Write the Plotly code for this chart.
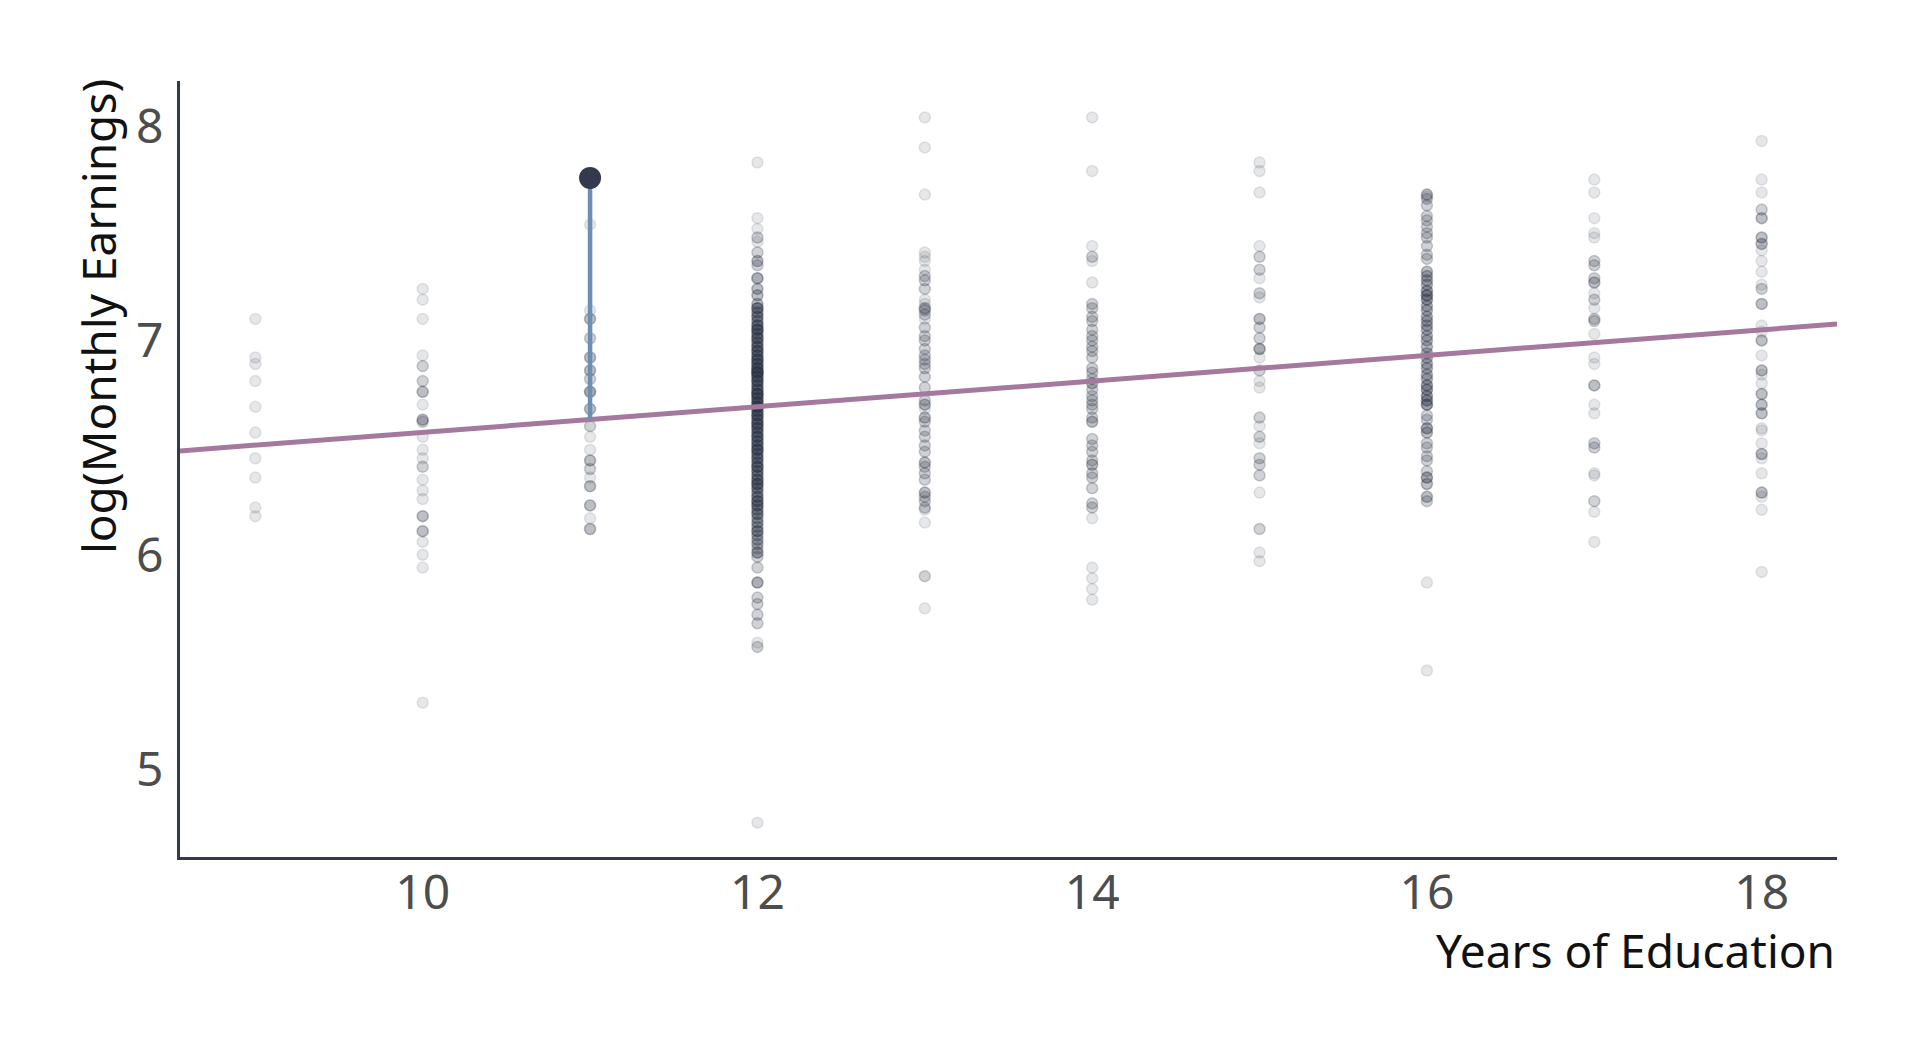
import plotly.graph_objects as go

# ---- data: log monthly earnings by years of education ----
# each column: distinct values read off the chart and how many dots sit on each
educ_years = [9, 10, 11, 12, 13, 14, 15, 16, 17, 18]

earn_9_vals = [7.10, 6.92, 6.89, 6.81, 6.69, 6.57, 6.45, 6.36, 6.22, 6.18]
earn_9_cnts = [1, 1, 1, 1, 1, 1, 1, 1, 1, 1]

earn_10_vals = [7.24, 7.19, 7.10, 6.93, 6.88, 6.81, 6.76, 6.70, 6.63, 6.62, 6.55, 6.49,
                6.45, 6.41, 6.35, 6.30, 6.26, 6.18, 6.11, 6.06, 6.00, 5.94, 5.31]
earn_10_cnts = [1, 1, 1, 1, 2, 2, 3, 1, 3, 2, 1, 1,
                1, 2, 1, 1, 1, 3, 3, 1, 1, 1, 1]

earn_11_vals = [7.54, 7.14, 7.10, 7.01, 6.92, 6.86, 6.82, 6.76, 6.68, 6.60, 6.55, 6.49,
                6.44, 6.40, 6.36, 6.32, 6.23, 6.17, 6.12]
earn_11_cnts = [1, 1, 3, 2, 3, 3, 2, 4, 3, 2, 1, 1,
                3, 2, 1, 3, 3, 1, 3]

earn_12_vals = [7.83, 7.57, 7.52, 7.48, 7.46, 7.41, 7.37, 7.35, 7.29, 7.24, 7.21,
                7.17, 7.15, 7.13, 7.11, 7.09, 7.07, 7.05, 7.03, 7.01, 6.99, 6.97, 6.95,
                6.93, 6.91, 6.89, 6.87, 6.85, 6.83, 6.81, 6.79, 6.77, 6.75, 6.73, 6.71,
                6.69, 6.67, 6.65, 6.63, 6.61, 6.59, 6.57, 6.55, 6.53, 6.51, 6.49, 6.47,
                6.45, 6.43, 6.41, 6.39, 6.37, 6.35, 6.33, 6.31, 6.29, 6.27, 6.25, 6.23,
                6.21, 6.19, 6.17, 6.15, 6.13, 6.11, 6.09, 6.07, 6.05, 6.03, 6.01, 5.99,
                5.94, 5.87, 5.80, 5.77, 5.72, 5.68, 5.59, 5.57, 4.75]
earn_12_cnts = [1, 1, 1, 2, 1, 2, 3, 2, 4, 3, 3,
                3, 6, 4, 5, 4, 6, 8, 5, 7, 5, 6, 7,
                6, 8, 7, 8, 12, 7, 8, 6, 7, 10, 7, 8,
                10, 7, 8, 6, 8, 7, 6, 7, 6, 6, 8, 5,
                6, 5, 7, 5, 5, 6, 7, 5, 4, 5, 6, 6,
                4, 5, 3, 4, 3, 5, 3, 3, 3, 2, 4, 2,
                2, 4, 2, 2, 2, 2, 1, 2, 1]

earn_13_vals = [8.04, 7.90, 7.68, 7.41, 7.39, 7.37, 7.33, 7.30, 7.28, 7.24, 7.19, 7.17,
                7.15, 7.14, 7.12, 7.10, 7.06, 7.02, 7.00, 6.96, 6.93, 6.91, 6.89, 6.87,
                6.83, 6.78, 6.72, 6.70, 6.68, 6.64, 6.62, 6.58, 6.55, 6.51, 6.48, 6.43,
                6.41, 6.38, 6.35, 6.29, 6.27, 6.25, 6.22, 6.21, 6.15, 5.90, 5.75]
earn_13_cnts = [1, 1, 1, 1, 1, 1, 1, 2, 2, 2, 1, 1,
                3, 2, 2, 1, 2, 2, 2, 2, 2, 2, 2, 2,
                2, 2, 2, 3, 1, 3, 2, 2, 2, 2, 2, 3,
                2, 2, 2, 3, 2, 2, 2, 1, 1, 2, 1]

earn_14_vals = [8.04, 7.79, 7.44, 7.39, 7.37, 7.27, 7.17, 7.15, 7.11, 7.09, 7.05, 7.02,
                7.00, 6.97, 6.95, 6.92, 6.87, 6.85, 6.82, 6.80, 6.77, 6.74, 6.72, 6.70,
                6.68, 6.64, 6.62, 6.54, 6.51, 6.48, 6.44, 6.42, 6.38, 6.36, 6.31, 6.24,
                6.22, 6.17, 5.94, 5.89, 5.84, 5.79]
earn_14_cnts = [1, 1, 1, 2, 1, 1, 2, 2, 2, 2, 2, 2,
                2, 2, 2, 2, 2, 2, 2, 3, 2, 2, 2, 2,
                2, 2, 3, 2, 2, 2, 2, 3, 2, 2, 2, 2,
                2, 1, 1, 1, 1, 1]

earn_15_vals = [7.83, 7.79, 7.69, 7.44, 7.39, 7.33, 7.29, 7.22, 7.20, 7.10, 7.06, 7.01,
                6.96, 6.92, 6.86, 6.81, 6.78, 6.64, 6.60, 6.55, 6.52, 6.45, 6.42, 6.37,
                6.29, 6.12, 6.01, 5.97]
earn_15_cnts = [1, 1, 1, 1, 2, 2, 1, 2, 1, 3, 2, 2,
                4, 1, 2, 1, 1, 2, 1, 2, 1, 2, 2, 2,
                1, 2, 1, 1]

earn_16_vals = [7.68, 7.67, 7.66, 7.63, 7.58, 7.56, 7.53, 7.50, 7.48, 7.44, 7.40, 7.38,
                7.32, 7.30, 7.28, 7.26, 7.23, 7.21, 7.19, 7.16, 7.14, 7.11, 7.09, 7.07,
                7.05, 7.02, 7.00, 6.97, 6.94, 6.92, 6.89, 6.87, 6.84, 6.82, 6.79, 6.77,
                6.74, 6.72, 6.70, 6.65, 6.63, 6.59, 6.57, 6.52, 6.50, 6.46, 6.44, 6.39,
                6.36, 6.33, 6.27, 6.25, 5.87, 5.46]
earn_16_cnts = [3, 1, 2, 2, 2, 2, 2, 2, 2, 2, 2, 2,
                3, 3, 3, 3, 4, 5, 4, 3, 3, 3, 3, 3,
                3, 3, 3, 3, 3, 3, 3, 3, 3, 3, 4, 4,
                4, 4, 5, 2, 2, 4, 3, 2, 2, 2, 2, 2,
                4, 3, 3, 2, 1, 1]

earn_17_vals = [7.75, 7.69, 7.57, 7.50, 7.48, 7.37, 7.35, 7.29, 7.27, 7.22, 7.19, 7.15,
                7.10, 7.09, 7.03, 6.92, 6.89, 6.79, 6.70, 6.66, 6.52, 6.50, 6.38, 6.37,
                6.25, 6.20, 6.06]
earn_17_cnts = [1, 1, 1, 1, 1, 2, 2, 2, 3, 1, 2, 1,
                2, 2, 1, 1, 1, 3, 1, 1, 2, 2, 1, 1,
                2, 1, 1]

earn_18_vals = [7.93, 7.75, 7.69, 7.61, 7.57, 7.48, 7.45, 7.42, 7.37, 7.32, 7.26, 7.24,
                7.17, 7.07, 7.04, 7.00, 6.93, 6.86, 6.84, 6.80, 6.75, 6.70, 6.66, 6.59,
                6.58, 6.52, 6.47, 6.45, 6.38, 6.29, 6.27, 6.21, 5.92]
earn_18_cnts = [1, 1, 1, 2, 3, 3, 3, 1, 1, 1, 1, 2,
                3, 1, 1, 3, 1, 3, 1, 1, 3, 3, 3, 1,
                1, 1, 3, 1, 1, 3, 1, 1, 1]

earn_vals_by_year = [earn_9_vals, earn_10_vals, earn_11_vals, earn_12_vals, earn_13_vals,
                     earn_14_vals, earn_15_vals, earn_16_vals, earn_17_vals, earn_18_vals]
earn_cnts_by_year = [earn_9_cnts, earn_10_cnts, earn_11_cnts, earn_12_cnts, earn_13_cnts,
                     earn_14_cnts, earn_15_cnts, earn_16_cnts, earn_17_cnts, earn_18_cnts]

# fitted regression line: log(earnings) = b0 + b1 * educ
fit_intercept = 5.973
fit_slope = 0.0598

# highlighted observation (its residual is drawn)
highlight_x = 11
highlight_y = 7.758

x_ticks = [10, 12, 14, 16, 18]
y_ticks = [5, 6, 7, 8]
x_range = [8.55, 18.45]
y_range = [4.59, 8.21]

# ---- styling ----
NAVY = "#343A4E"
POINT_RGBA = "rgba(52,58,78,0.12)"
FIT_COLOR = "#A5789E"
RESID_COLOR = "#6C8FB6"
FONT = "Noto Sans, Open Sans, DejaVu Sans, sans-serif"

all_x, all_y = [], []
for yr, vals, cnts in zip(educ_years, earn_vals_by_year, earn_cnts_by_year):
    for v, c in zip(vals, cnts):
        all_x += [yr] * c
        all_y += [v] * c

fig = go.Figure()

fig.add_trace(go.Scatter(
    x=all_x, y=all_y, mode="markers",
    marker=dict(size=11, color=POINT_RGBA,
                line=dict(color=POINT_RGBA, width=1.5)),
    hoverinfo="skip", showlegend=False,
))

fit_y = [fit_intercept + fit_slope * xv for xv in x_range]
fig.add_trace(go.Scatter(
    x=x_range, y=fit_y, mode="lines",
    line=dict(color=FIT_COLOR, width=5),
    hoverinfo="skip", showlegend=False,
))

fitted_at_highlight = fit_intercept + fit_slope * highlight_x
fig.add_trace(go.Scatter(
    x=[highlight_x, highlight_x], y=[fitted_at_highlight, highlight_y],
    mode="lines", line=dict(color=RESID_COLOR, width=4.5),
    hoverinfo="skip", showlegend=False,
))
fig.add_trace(go.Scatter(
    x=[highlight_x], y=[highlight_y], mode="markers",
    marker=dict(size=22, color=NAVY, line=dict(width=0)),
    hoverinfo="skip", showlegend=False,
))

fig.update_layout(
    width=1920, height=1056, autosize=False,
    paper_bgcolor="white", plot_bgcolor="white",
    margin=dict(l=172, r=91, t=73, b=207),
    font=dict(family=FONT),
    xaxis=dict(range=x_range, tickvals=x_ticks, ticktext=[str(v) for v in x_ticks],
               showgrid=False, zeroline=False, showline=True,
               linecolor=NAVY, linewidth=3, ticks="",
               ticklabelstandoff=-9,
               tickfont=dict(size=48, color="#4D4D4D", family=FONT)),
    yaxis=dict(range=y_range, tickvals=y_ticks, ticktext=[str(v) for v in y_ticks],
               showgrid=False, zeroline=False, showline=True,
               linecolor=NAVY, linewidth=3, ticks="",
               ticklabelstandoff=4,
               tickfont=dict(size=48, color="#4D4D4D", family=FONT)),
    annotations=[
        dict(text="Years of Education", xref="paper", yref="paper",
             x=1.0, y=-0.12, xanchor="right", yanchor="middle",
             showarrow=False, font=dict(size=46, color="#111111", family=FONT)),
        dict(text="log(Monthly Earnings)", xref="paper", yref="paper",
             x=-0.0495, y=0.697, xanchor="center", yanchor="middle",
             textangle=-90, showarrow=False,
             font=dict(size=46, color="#111111", family=FONT)),
    ],
)

fig.write_html("out.html")
